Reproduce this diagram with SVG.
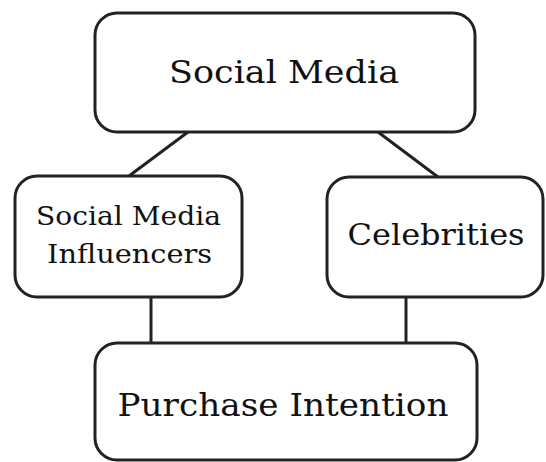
<svg xmlns="http://www.w3.org/2000/svg" width="546" height="462" viewBox="0 0 546 462">
  <style>
    .box { fill: #ffffff; stroke: #222222; stroke-width: 3; }
    .edge { stroke: #222222; stroke-width: 3; fill: none; }
    .label { font-family: "DejaVu Serif", "Liberation Serif", serif; fill: #111111; text-anchor: middle; }
  </style>
  <rect width="546" height="462" fill="#ffffff"/>

  <!-- connectors -->
  <g id="connectors">
    <line class="edge" x1="188" y1="132" x2="129" y2="176"/>
    <line class="edge" x1="378" y1="132" x2="438" y2="177"/>
    <line class="edge" x1="151" y1="297" x2="151" y2="343"/>
    <line class="edge" x1="406" y1="297" x2="406" y2="343"/>
  </g>

  <g id="social-media">
    <rect class="box" x="95" y="13" width="380" height="119" rx="22"/>
    <text class="label" x="284" y="83" font-size="32" textLength="230" lengthAdjust="spacingAndGlyphs">Social Media</text>
  </g>

  <g id="influencers">
    <rect class="box" x="15" y="176" width="227" height="121" rx="22"/>
    <text class="label" x="128.5" y="225" font-size="26" textLength="185" lengthAdjust="spacingAndGlyphs">Social Media</text>
    <text class="label" x="129.5" y="263" font-size="26" textLength="165" lengthAdjust="spacingAndGlyphs">Influencers</text>
  </g>

  <g id="celebrities">
    <rect class="box" x="327" y="177" width="216" height="120" rx="22"/>
    <text class="label" x="436" y="245" font-size="30" textLength="177" lengthAdjust="spacingAndGlyphs">Celebrities</text>
  </g>

  <g id="purchase-intention">
    <rect class="box" x="95" y="343" width="382" height="117" rx="22"/>
    <text class="label" x="283" y="416" font-size="32" textLength="331" lengthAdjust="spacingAndGlyphs">Purchase Intention</text>
  </g>
</svg>
